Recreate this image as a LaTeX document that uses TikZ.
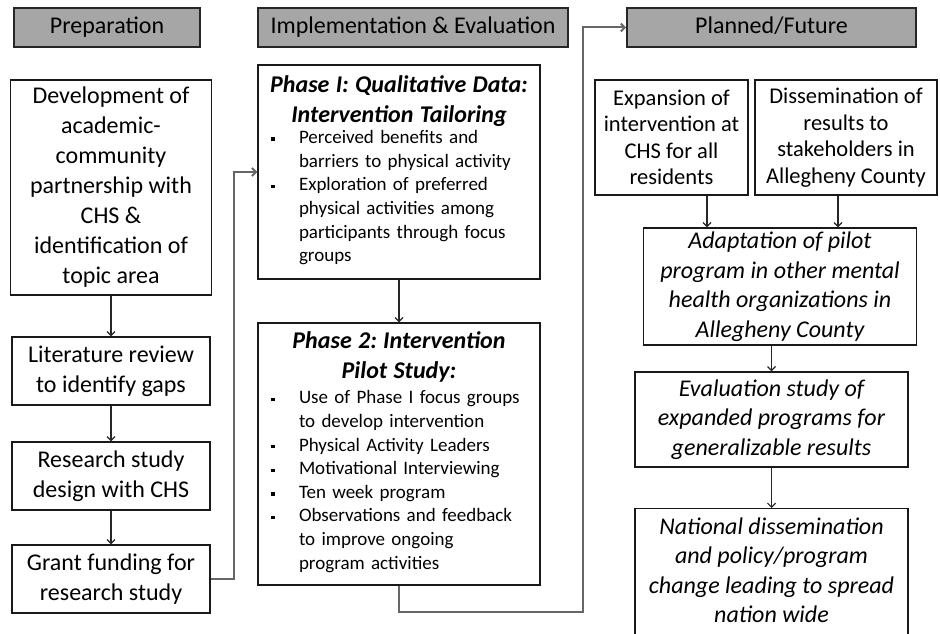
\documentclass[tikz,border=0pt]{standalone}
\usepackage{fontspec}
\setmainfont{Carlito}
\usetikzlibrary{arrows.meta}
\frenchspacing

\newcommand{\sqbul}{\hspace*{3pt}\rule[0.3ex]{3.5pt}{3.5pt}}

\begin{document}
\begin{tikzpicture}[x=1pt, y=-1pt, >={Straight Barb[length=4pt,width=8pt]},
    header/.style={draw=black!85, line width=1.6pt, fill=black!35, minimum height=39pt, inner sep=0pt, text height=17pt, text depth=4pt, font=\fontsize{24}{30}\selectfont},
    box/.style={draw=black!90, line width=1.3pt, align=center, inner sep=3pt, font=\fontsize{24}{30}\selectfont},
    smallbox/.style={box, font=\fontsize{22.5}{26.5}\selectfont},
    future/.style={box, font=\fontsize{24}{29.5}\selectfont\itshape},
    phase/.style={draw=black!90, line width=1.3pt, align=center, inner xsep=10pt, inner ysep=3pt, text width=262pt, font=\fontsize{19}{23.6}\selectfont},
    link/.style={->, draw=black!85, line width=1.2pt},
    route/.style={->, draw=black!60, line width=2pt}]
  \useasboundingbox (0,0) rectangle (940,634);

  % column headers
  \node[header, minimum width=186pt] (prep) at (107,27.5) {Preparation};
  \node[header, minimum width=310pt] (impl) at (413,27.5) {Implementation \& Evaluation};
  \node[header, minimum width=289pt] (plan) at (771.5,27.5) {Planned/Future};

  % preparation
  \node[box, minimum width=201pt, minimum height=215pt] (dev) at (111,187.5) {Development of\\ academic-\\ community\\ partnership with\\ CHS \&\\ identification of\\ topic area};
  \node[box, minimum width=198pt, minimum height=68pt] (lit) at (111,371) {Literature review\\ to identify gaps};
  \node[box, minimum width=198pt, minimum height=68pt] (res) at (111,476) {Research study\\ design with CHS};
  \node[box, minimum width=198pt, minimum height=68pt] (grant) at (111,579) {Grant funding for\\ research study};

  % implementation
  \node[phase, minimum height=214pt] (ph1) at (399,172) {{\fontsize{24}{30}\selectfont\bfseries\itshape Phase I: Qualitative Data:\\ Intervention Tailoring\par}
    \begin{tabular}{@{}p{31pt}@{}p{231pt}@{}}
      \sqbul & Perceived benefits and\\
             & barriers to physical activity\\
      \sqbul & Exploration of preferred\\
             & physical activities among\\
             & participants through focus\\
             & groups
    \end{tabular}};
  \node[phase, minimum height=262pt] (ph2) at (399,454) {{\fontsize{24}{30}\selectfont\bfseries\itshape Phase 2: Intervention\\ Pilot Study:\par}
    \vspace{4pt}
    \begin{tabular}{@{}p{31pt}@{}p{231pt}@{}}
      \sqbul & Use of Phase I focus groups\\
             & to develop intervention\\
      \sqbul & Physical Activity Leaders\\
      \sqbul & Motivational Interviewing\\
      \sqbul & Ten week program\\
      \sqbul & Observations and feedback\\
             & to improve ongoing\\
             & program activities
    \end{tabular}};

  % planned / future
  \node[smallbox, minimum width=153pt, minimum height=115pt] (expand) at (671.5,137.5) {Expansion of\\ intervention at\\ CHS for all\\ residents};
  \node[smallbox, minimum width=182pt, minimum height=115pt] (dissem) at (846,137.5) {Dissemination of\\ results to\\ stakeholders in\\ Allegheny County};
  \node[future, minimum width=273pt, minimum height=117pt] (adapt) at (780,286.5) {Adaptation of pilot\\ program in other mental\\ health organizations in\\ Allegheny County};
  \node[future, minimum width=273pt, minimum height=95pt] (evalst) at (771.5,419.5) {Evaluation study of\\ expanded programs for\\ generalizable results};
  \node[future, minimum width=273pt, anchor=north, inner ysep=9pt, text depth=30pt] (natl) at (771.5,508) {National dissemination\\ and policy/program\\ change leading to spread\\ nation wide};

  \draw[link] (dev) -- (lit);
  \draw[link] (lit) -- (res);
  \draw[link] (res) -- (grant);
  \draw[route] (grant.east) -- ++(23,0) |- (ph1.west);
  \draw[link] (ph1) -- (ph2);
  \draw[route] (ph2.south) -- ++(0,26) -| ([xshift=-43pt]plan.west) -- (plan.west);
  \draw[link] ([xshift=35.5pt]expand.south) -- ([xshift=35.5pt]expand.south |- adapt.north);
  \draw[link] ([xshift=-8pt]dissem.south) -- ([xshift=-8pt]dissem.south |- adapt.north);
  \draw[link] (adapt.south -| evalst.north) -- (evalst.north);
  \draw[link] (evalst) -- (natl);
\end{tikzpicture}
\end{document}
